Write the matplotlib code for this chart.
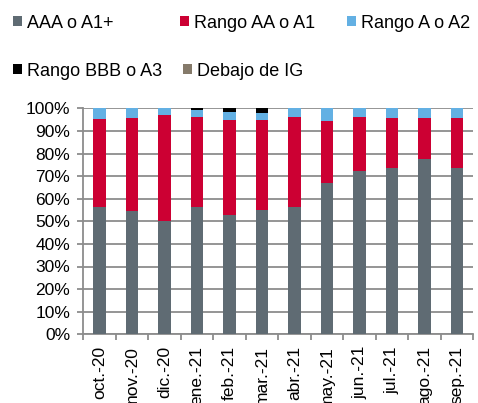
import matplotlib
matplotlib.use("Agg")
import matplotlib.pyplot as plt
import numpy as np

plt.rcParams['font.family'] = ['Liberation Sans', 'DejaVu Sans']

categories = ["oct.-20", "nov.-20", "dic.-20", "ene.-21", "feb.-21", "mar.-21",
              "abr.-21", "may.-21", "jun.-21", "jul.-21", "ago.-21", "sep.-21"]
aaa = [56.5, 54.6, 50.1, 56.2, 52.6, 55.0, 56.3, 66.8, 72.3, 73.4, 77.4, 73.7]
aa = [38.9, 41.2, 47.1, 40.1, 42.4, 40.0, 39.7, 27.7, 23.7, 22.2, 18.2, 22.1]
a = [4.6, 4.2, 2.8, 2.9, 3.2, 2.9, 4.0, 5.5, 4.0, 4.4, 4.4, 4.2]
bbb = [0, 0, 0, 0.8, 1.8, 2.1, 0, 0, 0, 0, 0, 0]
ig = [0, 0, 0, 0, 0, 0, 0, 0, 0, 0, 0, 0]
yticks = [0, 10, 20, 30, 40, 50, 60, 70, 80, 90, 100]
ytick_labels = [f"{v}%" for v in yticks]

series = [
    ("AAA o A1+", aaa, "#5F6B73"),
    ("Rango AA o A1", aa, "#CC0033"),
    ("Rango A o A2", a, "#63B0E3"),
    ("Rango BBB o A3", bbb, "#000000"),
    ("Debajo de IG", ig, "#857A6A"),
]

fig = plt.figure(figsize=(4.78, 4.03), dpi=100)
ax = fig.add_axes([83.3/478, 1-334.3/403, (473.3-83.3)/478, (334.3-108.3)/403])

x = np.arange(len(categories))
bottom = np.zeros(len(categories))
handles = {}
for name, vals, col in series:
    v = np.array(vals, dtype=float)
    bc = ax.bar(x, v, width=0.39, bottom=bottom, color=col, linewidth=0, zorder=3, label=name)
    handles[name] = bc
    bottom += v

grid_col = "#8C8C8C"
ax.set_xlim(-0.5, len(categories) - 0.5)
ax.set_ylim(0, 100)
ax.set_yticks(yticks)
ax.set_yticklabels(ytick_labels, fontsize=12.5)
ax.yaxis.grid(True, color=grid_col, linewidth=1.3, zorder=0)
ax.tick_params(axis='y', length=4.5, width=1.3, color=grid_col, pad=5)
ax.set_xticks(x)
ax.set_xticklabels(categories, rotation=90, fontsize=12.5, va='top')
ax.tick_params(axis='x', length=0, pad=8.5)
ax.set_xticks(np.arange(-0.5, len(categories), 1), minor=True)
ax.tick_params(axis='x', which='minor', length=4, width=1.3, color=grid_col)
for s in ['top', 'right']:
    ax.spines[s].set_visible(False)
for s in ['left', 'bottom']:
    ax.spines[s].set_color(grid_col)
    ax.spines[s].set_linewidth(1.3)

legend_pos = {
    "AAA o A1+": (13, 23),
    "Rango AA o A1": (180, 23),
    "Rango A o A2": (347, 23),
    "Rango BBB o A3": (13, 71),
    "Debajo de IG": (183, 71),
}
for name, _, _ in series:
    px, py = legend_pos[name]
    lg = fig.legend([handles[name]], [name], loc='center left',
                    bbox_to_anchor=(px/478, 1-py/403), frameon=False,
                    fontsize=13, handlelength=0.5, handleheight=0.5,
                    handletextpad=0.3, borderpad=0, borderaxespad=0)

fig.savefig("out.png", dpi=100)
